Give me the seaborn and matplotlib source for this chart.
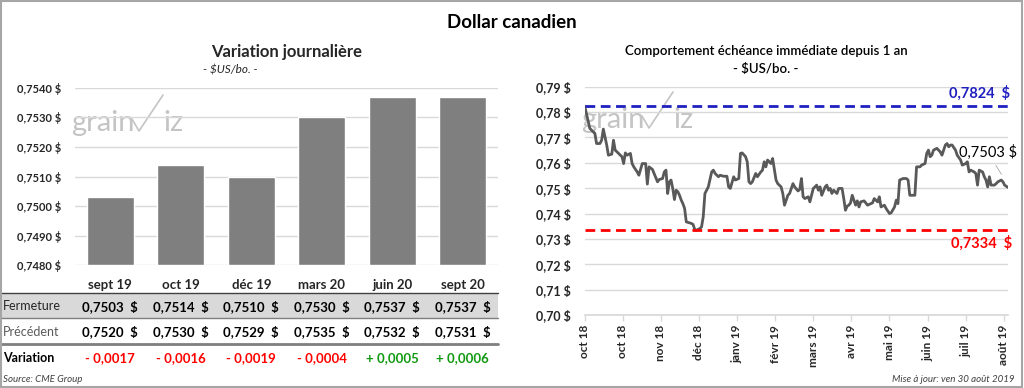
import numpy as np
import pandas as pd
import seaborn as sns
import matplotlib.pyplot as plt
from matplotlib.ticker import FuncFormatter
from matplotlib.transforms import blended_transform_factory
from matplotlib.patches import Rectangle
from matplotlib.lines import Line2D

# Données - variation journalière
echeances = ['sept 19', 'oct 19', 'déc 19', 'mars 20', 'juin 20', 'sept 20']
fermeture = [0.7503, 0.7514, 0.7510, 0.7530, 0.7537, 0.7537]
precedent = [0.7520, 0.7530, 0.7529, 0.7535, 0.7532, 0.7531]
variation = [-0.0017, -0.0016, -0.0019, -0.0004, 0.0005, 0.0006]

# Données - échéance immédiate depuis 1 an (jour de cotation, cours)
jour = [0, 3, 4, 6, 7, 9, 10, 11, 13, 14, 16, 17, 18, 20, 22, 23, 24, 25, 27, 28,
        29, 31, 32, 34, 36, 37, 38, 40, 41, 43, 44, 46, 47, 48, 49, 50, 51, 52, 53, 54,
        55, 56, 57, 58, 59, 60, 62, 63, 64, 65, 66, 68, 69, 70, 71, 73, 75, 76, 77, 79,
        80, 82, 84, 85, 86, 88, 89, 91, 92, 93, 95, 96, 97, 98, 99, 101, 102, 104, 105, 106,
        107, 108, 110, 111, 113, 114, 116, 117, 118, 120, 121, 123, 124, 126, 127, 128, 129, 130, 132, 133,
        135, 136, 137, 138, 139, 140, 142, 143, 144, 145, 146, 147, 149, 150, 152, 153, 154, 155, 156, 157,
        158, 160, 161, 162, 163, 165, 166, 167, 169, 170, 171, 173, 174, 175, 177, 178, 180, 181, 183, 184,
        185, 186, 188, 190, 191, 192, 194, 195, 196, 198, 199, 201, 202, 203, 204, 205, 206, 208, 210, 211,
        213, 214, 215, 216, 217, 219, 220, 222, 223, 225, 226, 227, 228, 230, 231, 232, 233, 235, 236, 237,
        238, 239, 240, 242, 243, 244, 246, 247, 248, 250]
cours = [0.7824, 0.7736, 0.7729, 0.7716, 0.7676, 0.7676, 0.7689, 0.7733, 0.7670, 0.7630,
         0.7634, 0.7689, 0.7650, 0.7637, 0.7624, 0.7597, 0.7639, 0.7630, 0.7637, 0.7597,
         0.7584, 0.7564, 0.7551, 0.7597, 0.7597, 0.7516, 0.7584, 0.7574, 0.7558, 0.7525,
         0.7534, 0.7538, 0.7564, 0.7571, 0.7479, 0.7525, 0.7532, 0.7499, 0.7455, 0.7492,
         0.7486, 0.7472, 0.7453, 0.7439, 0.7420, 0.7367, 0.7363, 0.7361, 0.7357, 0.7337,
         0.7334, 0.7341, 0.7347, 0.7387, 0.7479, 0.7505, 0.7564, 0.7571, 0.7558, 0.7545,
         0.7551, 0.7547, 0.7547, 0.7505, 0.7499, 0.7545, 0.7532, 0.7538, 0.7637, 0.7639,
         0.7624, 0.7604, 0.7525, 0.7518, 0.7525, 0.7558, 0.7545, 0.7564, 0.7571, 0.7604,
         0.7584, 0.7611, 0.7597, 0.7617, 0.7532, 0.7518, 0.7505, 0.7479, 0.7433, 0.7472,
         0.7479, 0.7518, 0.7505, 0.7489, 0.7495, 0.7538, 0.7466, 0.7459, 0.7466, 0.7446,
         0.7499, 0.7505, 0.7512, 0.7492, 0.7505, 0.7472, 0.7505, 0.7512, 0.7492, 0.7499,
         0.7479, 0.7492, 0.7479, 0.7499, 0.7499, 0.7459, 0.7413, 0.7429, 0.7433, 0.7442,
         0.7472, 0.7433, 0.7450, 0.7426, 0.7446, 0.7450, 0.7442, 0.7433, 0.7439, 0.7442,
         0.7459, 0.7446, 0.7466, 0.7426, 0.7433, 0.7420, 0.7400, 0.7403, 0.7426, 0.7453,
         0.7439, 0.7532, 0.7538, 0.7538, 0.7532, 0.7472, 0.7472, 0.7472, 0.7584, 0.7584,
         0.7591, 0.7597, 0.7637, 0.7650, 0.7624, 0.7630, 0.7650, 0.7657, 0.7643, 0.7630,
         0.7670, 0.7676, 0.7663, 0.7670, 0.7670, 0.7650, 0.7630, 0.7611, 0.7591, 0.7597,
         0.7604, 0.7564, 0.7571, 0.7564, 0.7558, 0.7512, 0.7571, 0.7564, 0.7545, 0.7532,
         0.7505, 0.7545, 0.7512, 0.7512, 0.7518, 0.7525, 0.7532, 0.7525, 0.7512, 0.7503]
mois = ['oct 18', 'oct 18', 'nov 18', 'déc 18', 'janv 19', 'févr 19', 'mars 19',
        'avr 19', 'mai 19', 'juin 19', 'juil 19', 'août 19']
haut_an = 0.7824
bas_an = 0.7334
dernier = 0.7503


def fr(v, n=4):
    return f'{v:.{n}f}'.replace('.', ',')


sns.set_theme(style='white')
plt.rcParams['font.family'] = ['Lato', 'DejaVu Sans']

fig = plt.figure(figsize=(10.24, 3.88), dpi=100)
W, H = 1024, 388

# cadre
fig.patches.append(Rectangle((0.001, 0.002), 0.997, 0.995, transform=fig.transFigure,
                             fill=False, edgecolor='#a6a6a6', lw=1.5, zorder=5))

fig.text(0.5, 1 - 22 / H, 'Dollar canadien', ha='center', va='center',
         fontsize=13.5, fontweight='bold', color='black')

# ---------- Graphique gauche ----------
ax1 = fig.add_axes([75 / W, 1 - 265.3 / H, 423 / W, 177.6 / H])
ax1.set_facecolor('none')
df1 = pd.DataFrame({'echeance': echeances, 'fermeture': fermeture})
sns.barplot(data=df1, x='echeance', y='fermeture', color='#7f7f7f', saturation=1,
            width=0.66, ax=ax1)
ax1.set_ylim(0.748, 0.754)
ax1.set_xlim(-0.5, 5.5)
for p in ax1.patches:
    p.set_y(0.748)
    p.set_height(p.get_height() - 0.748)
ax1.set_yticks(np.arange(0.748, 0.75401, 0.001))
ax1.yaxis.set_major_formatter(FuncFormatter(lambda v, _: fr(v) + ' $'))
ax1.grid(axis='y', color='#d9d9d9', lw=1)
ax1.set_axisbelow(True)
sns.despine(ax=ax1, left=True, bottom=True)
ax1.set_xlabel('')
ax1.set_ylabel('')
ax1.tick_params(axis='y', length=0, pad=10, labelsize=8)
ax1.tick_params(axis='x', length=0, pad=10, labelsize=9.5)
for t in ax1.get_xticklabels() + ax1.get_yticklabels():
    t.set_fontweight('bold')
ax1.set_title('Variation journalière', fontsize=12, fontweight='bold', pad=22)
fig.text(230 / W, 1 - 70 / H, '- $US/bo. -', ha='center', va='center',
         fontsize=8.5, style='italic', color='#262626')

# tableau sous le graphique (sous les axes : zorder négatif)
fig.patches.append(Rectangle((0, 1 - 318 / H), 498 / W, 25 / H, transform=fig.transFigure,
                             facecolor='#d9d9d9', edgecolor='none', zorder=-2))
fig.lines.append(Line2D([0, 498 / W], [1 - 293 / H] * 2, transform=fig.transFigure,
                        color='#404040', lw=1, zorder=-1))
fig.lines.append(Line2D([0, 498 / W], [1 - 318 / H] * 2, transform=fig.transFigure,
                        color='#7f7f7f', lw=1, zorder=-1))
fig.lines.append(Line2D([0, 498 / W], [1 - 343.5 / H] * 2, transform=fig.transFigure,
                        color='#7f7f7f', lw=2, zorder=-1))
tr = blended_transform_factory(ax1.transData, fig.transFigure)
y_ferm, y_prec, y_var = 1 - 306.5 / H, 1 - 332 / H, 1 - 358 / H
fig.text(3 / W, y_ferm, 'Fermeture', va='center', fontsize=9, color='#262626')
fig.text(3 / W, y_prec, 'Précédent', va='center', fontsize=9, color='#595959')
fig.text(3 / W, y_var, 'Variation', va='center', fontsize=9, fontweight='bold', color='black')
for i in range(len(echeances)):
    ax1.text(i, y_ferm, fr(fermeture[i]) + '  $', transform=tr, ha='center', va='center',
             fontsize=9.5, fontweight='bold', color='black')
    ax1.text(i, y_prec, fr(precedent[i]) + '  $', transform=tr, ha='center', va='center',
             fontsize=9.5, fontweight='bold', color='black')
    v = variation[i]
    txt = ('- ' if v < 0 else '+ ') + fr(abs(v))
    ax1.text(i, y_var, txt, transform=tr, ha='center', va='center', fontsize=9.5,
             fontweight='bold', color='#ff0000' if v < 0 else '#119911')
fig.text(3 / W, 1 - 380 / H, 'Source: CME Group', va='center', fontsize=7,
         style='italic', color='#404040')

# ---------- Graphique droit ----------
ax2 = fig.add_axes([584.7 / W, 1 - 315 / H, 423.3 / W, 228.3 / H])
ax2.set_facecolor('none')
df2 = pd.DataFrame({'jour': jour, 'cours': cours})
sns.lineplot(data=df2, x='jour', y='cours', color='#595959', lw=2, ax=ax2)
ax2.axhline(haut_an, color='#2020c0', lw=2, ls=(0, (3.5, 2)))
ax2.axhline(bas_an, color='#ff0000', lw=2, ls=(0, (3.5, 2)))
ax2.set_xlim(0, 250)
ax2.set_ylim(0.70, 0.79)
ax2.set_yticks(np.arange(0.70, 0.7901, 0.01))
ax2.yaxis.set_major_formatter(FuncFormatter(lambda v, _: fr(v, 2) + ' $'))
ax2.set_xticks(np.arange(len(mois)) * 22.5)
ax2.set_xticklabels(mois, rotation=90, va='top')
ax2.grid(axis='y', color='#d9d9d9', lw=1)
ax2.set_axisbelow(True)
sns.despine(ax=ax2, left=True)
ax2.spines['bottom'].set_color('#d9d9d9')
ax2.set_xlabel('')
ax2.set_ylabel('')
ax2.tick_params(axis='y', length=0, pad=10, labelsize=9)
ax2.tick_params(axis='x', length=4, width=1, color='#d9d9d9', bottom=True,
                pad=3, labelsize=8.5)
for t in ax2.get_xticklabels() + ax2.get_yticklabels():
    t.set_fontweight('bold')
fig.text(766 / W, 1 - 51 / H, 'Comportement échéance immédiate depuis 1 an', ha='center',
         va='center', fontsize=9.5, fontweight='semibold', color='black')
fig.text(766 / W, 1 - 69 / H, '- $US/bo. -', ha='center', va='center',
         fontsize=9.5, fontweight='semibold', color='black')
ax2.text(1.005, haut_an + 0.0051, fr(haut_an) + '  $', transform=ax2.get_yaxis_transform(),
         ha='right', va='center', fontsize=10.5, fontweight='bold', color='#2020c0')
ax2.text(1.01, bas_an - 0.0051, fr(bas_an) + '  $', transform=ax2.get_yaxis_transform(),
         ha='right', va='center', fontsize=10.5, fontweight='bold', color='#ff0000')
ax2.annotate(fr(dernier) + ' $', xy=(247, 0.7545), xytext=(238, 0.7642),
             ha='center', va='center', fontsize=10.5, color='black',
             arrowprops=dict(arrowstyle='-', color='#a6a6a6', lw=0.6), annotation_clip=False)
fig.text(1015 / W, 1 - 380 / H, 'Mise à jour: ven 30 août 2019', ha='right', va='center',
         fontsize=7, style='italic', color='#404040')


# filigrane grainviz
def filigrane(x0, y0):
    c = '#c4c4c4'
    fig.text(x0 / W, 1 - y0 / H, 'grain', fontsize=21, color=c, va='baseline', zorder=-1)
    fig.lines.append(Line2D(np.array([x0 + 61, x0 + 68, x0 + 92]) / W,
                            1 - np.array([y0 - 12, y0, y0 - 36]) / H,
                            transform=fig.transFigure, color=c, lw=1.2, zorder=-1))
    fig.text((x0 + 92) / W, 1 - y0 / H, 'iz', fontsize=21, color=c, va='baseline', zorder=-1)


filigrane(71, 131)
filigrane(581, 128)

fig.savefig('out.png', dpi=100)
